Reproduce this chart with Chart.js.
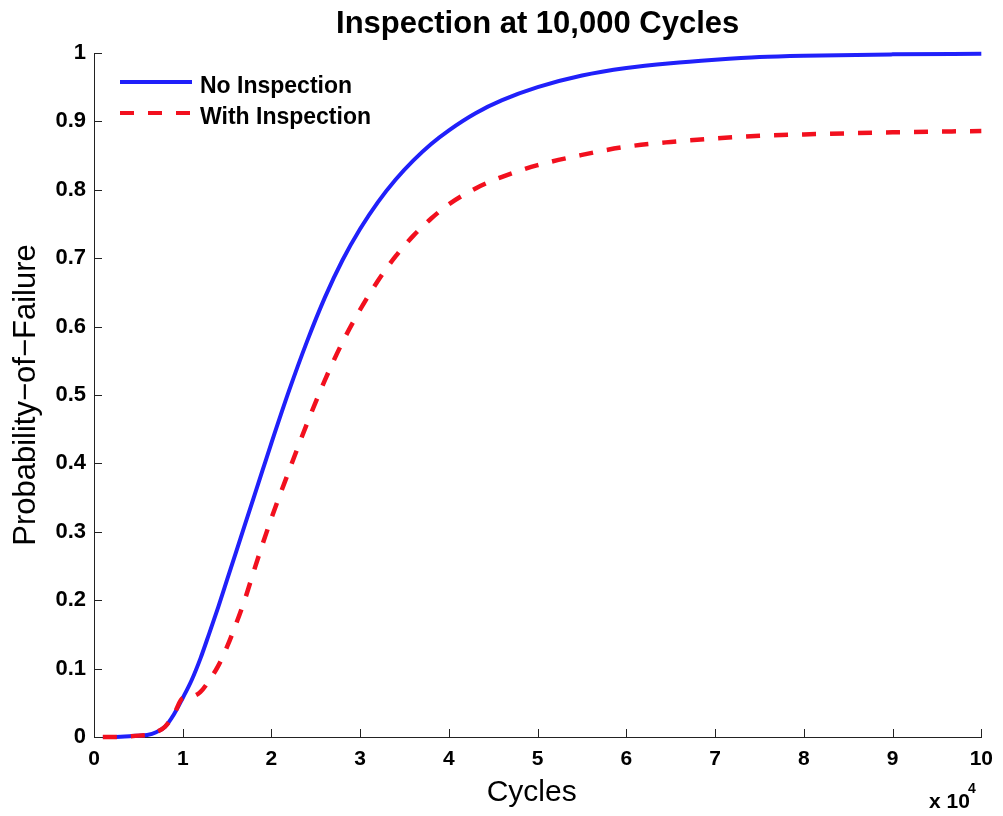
<!DOCTYPE html>
<html>
<head>
<meta charset="utf-8">
<title>Inspection at 10,000 Cycles</title>
<script src="https://cdn.jsdelivr.net/npm/chart.js@4/dist/chart.umd.min.js"></script>
<style>
  html, body { margin: 0; padding: 0; background: #fff; }
  canvas { display: block; }
</style>
</head>
<body>
<canvas id="pof" width="1003" height="816"></canvas>
<script>
  "use strict";

  // cycles in units of 10^4
  var cycles = [0.1, 0.2, 0.3, 0.4, 0.5, 0.6, 0.7, 0.8, 0.9, 1.0,
    1.1, 1.2, 1.3, 1.4, 1.5, 1.6, 1.7, 1.8, 1.9, 2.0,
    2.2, 2.4, 2.6, 2.8, 3.0, 3.2, 3.4, 3.6, 3.8, 4.0,
    4.3, 4.6, 5.0, 5.5, 6.0, 6.5, 7.0, 7.5, 8.0, 9.0, 10.0];

  var noInspection = [0, 0, 0.0003, 0.001, 0.002, 0.003, 0.007, 0.015, 0.033, 0.057,
    0.083, 0.115, 0.152, 0.19, 0.23, 0.27, 0.31, 0.35, 0.39, 0.43,
    0.507, 0.578, 0.642, 0.697, 0.743, 0.782, 0.815, 0.843, 0.867, 0.887,
    0.912, 0.931, 0.950, 0.967, 0.978, 0.985, 0.990, 0.994, 0.996, 0.998, 0.999];

  var withInspection = [0, 0, 0.0003, 0.001, 0.002, 0.003, 0.007, 0.015, 0.033, 0.057,
    0.059, 0.066, 0.083, 0.104, 0.132, 0.165, 0.201, 0.242, 0.282, 0.320,
    0.390, 0.458, 0.521, 0.577, 0.625, 0.667, 0.703, 0.733, 0.758, 0.779,
    0.802, 0.819, 0.836, 0.851, 0.863, 0.870, 0.875, 0.879, 0.881, 0.884, 0.886];

  var xTickLabels = ["0", "1", "2", "3", "4", "5", "6", "7", "8", "9", "10"];
  var yTickLabels = ["0", "0.1", "0.2", "0.3", "0.4", "0.5", "0.6", "0.7", "0.8", "0.9", "1"];

  var seriesNames = ["No Inspection", "With Inspection"];
  var BLUE = "#2020fa";
  var RED = "#f2101e";
  var FONT = "'Liberation Sans', Arial, Helvetica, sans-serif";

  function points(ys) {
    return cycles.map(function (x, i) { return { x: x, y: ys[i] }; });
  }

  // inward ticks, titles, "x 10^4" and the in-plot legend
  var decorations = {
    id: "decorations",
    afterDraw: function (chart) {
      var ctx = chart.ctx;
      var a = chart.chartArea;
      var xs = chart.scales.x;
      var ys = chart.scales.y;
      ctx.save();

      ctx.strokeStyle = "#222";
      ctx.lineWidth = 1;
      ctx.beginPath();
      xs.ticks.forEach(function (t) {
        var px = Math.round(xs.getPixelForValue(t.value)) + 0.5;
        ctx.moveTo(px, a.bottom);
        ctx.lineTo(px, a.bottom - 8);
      });
      ys.ticks.forEach(function (t) {
        var py = Math.round(ys.getPixelForValue(t.value)) + 0.5;
        ctx.moveTo(a.left, py);
        ctx.lineTo(a.left + 8, py);
      });
      ctx.stroke();

      ctx.fillStyle = "#000";
      ctx.textAlign = "center";
      ctx.textBaseline = "alphabetic";
      ctx.font = "bold 31px " + FONT;
      ctx.fillText("Inspection at 10,000 Cycles", (a.left + a.right) / 2, 33);

      ctx.font = "30px " + FONT;
      ctx.fillText("Cycles", (a.left + a.right) / 2 - 6, 801);

      ctx.save();
      ctx.translate(35, (a.top + a.bottom) / 2);
      ctx.rotate(-Math.PI / 2);
      ctx.font = "31px " + FONT;
      ctx.fillText("Probability\u2212of\u2212Failure", 0, 0);
      ctx.restore();

      ctx.textAlign = "left";
      ctx.font = "bold 21px " + FONT;
      ctx.fillText("x 10", 929, 808);
      ctx.font = "bold 14px " + FONT;
      ctx.fillText("4", 968, 793);

      // legend
      var items = [
        { name: seriesNames[0], color: BLUE, dash: [], y: 82 },
        { name: seriesNames[1], color: RED, dash: [14, 14], y: 113 }
      ];
      items.forEach(function (it) {
        ctx.strokeStyle = it.color;
        ctx.lineWidth = 4;
        ctx.setLineDash(it.dash);
        ctx.beginPath();
        ctx.moveTo(120, it.y);
        ctx.lineTo(192, it.y);
        ctx.stroke();
        ctx.setLineDash([]);
        ctx.fillStyle = "#000";
        ctx.font = "bold 23px " + FONT;
        ctx.textBaseline = "alphabetic";
        ctx.fillText(it.name, 200, it.y + 11);
      });

      ctx.restore();
    }
  };

  new Chart(document.getElementById("pof"), {
    type: "scatter",
    data: {
      datasets: [
        {
          label: seriesNames[1],
          data: points(withInspection),
          showLine: true,
          borderColor: RED,
          borderWidth: 4.5,
          borderDash: [14, 14],
          pointRadius: 0,
          cubicInterpolationMode: "monotone",
          clip: 6,
          order: 0
        },
        {
          label: seriesNames[0],
          data: points(noInspection),
          showLine: true,
          borderColor: BLUE,
          borderWidth: 4,
          pointRadius: 0,
          cubicInterpolationMode: "monotone",
          clip: 6,
          order: 1
        }
      ]
    },
    options: {
      responsive: false,
      animation: false,
      layout: { padding: { top: 53, right: 19, bottom: 0, left: 0 } },
      plugins: {
        legend: { display: false },
        tooltip: { enabled: false },
        title: { display: false }
      },
      scales: {
        x: {
          type: "linear",
          min: 0,
          max: 10,
          grid: { display: false, drawTicks: false },
          border: { display: true, color: "#222", width: 1 },
          ticks: {
            stepSize: 1,
            padding: 10,
            color: "#000",
            font: { family: FONT, size: 21, weight: "bold" },
            maxRotation: 0,
            callback: function (v, i) { return xTickLabels[i]; }
          },
          afterFit: function (s) { s.height = 79; }
        },
        y: {
          min: 0,
          max: 1,
          grid: { display: false, drawTicks: false },
          border: { display: true, color: "#222", width: 1 },
          ticks: {
            stepSize: 0.1,
            padding: 8,
            color: "#000",
            font: { family: FONT, size: 22, weight: "bold" },
            callback: function (v, i) { return yTickLabels[i]; }
          },
          afterFit: function (s) { s.width = 94; }
        }
      }
    },
    plugins: [decorations]
  });
</script>
</body>
</html>
